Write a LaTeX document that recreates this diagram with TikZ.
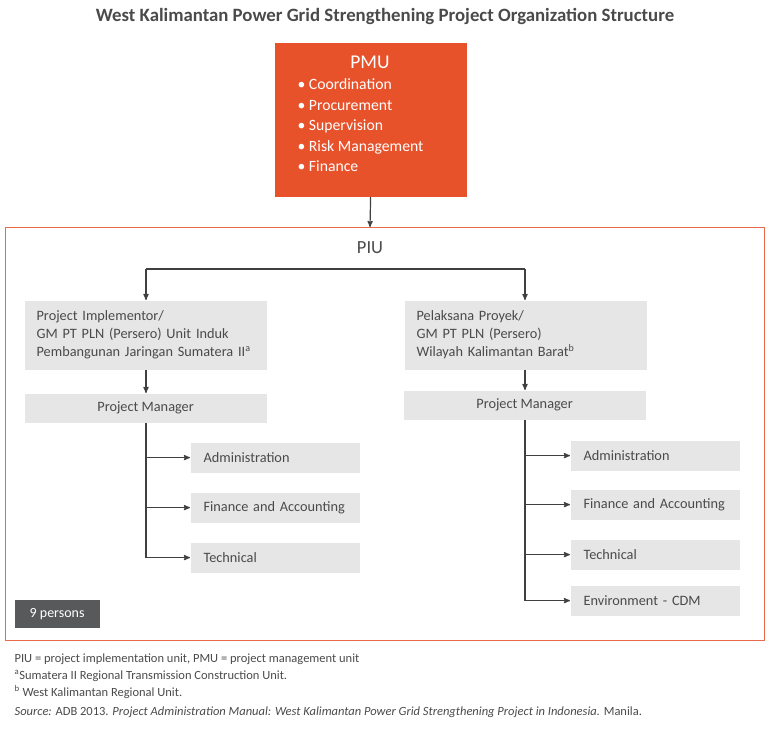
\documentclass[tikz,border=0pt]{standalone}
\usepackage{fontspec}
\setmainfont{Carlito}
\usepackage{tikz}
\usetikzlibrary{arrows,positioning}

\definecolor{pmuorange}{HTML}{E8522B}
\definecolor{frameorange}{HTML}{E96A4A}
\definecolor{boxgray}{HTML}{E6E6E7}
\definecolor{darkbox}{HTML}{58595B}
\definecolor{linegray}{HTML}{404040}
\definecolor{textgray}{HTML}{4A4A4A}

\begin{document}
\begin{tikzpicture}[x=1pt,y=-1pt,->,>=stealth',shorten >=0pt,
                    line width=1.2pt,color=linegray]
  \tikzstyle{every node}=[text=textgray,inner sep=0pt]
  \tikzstyle{unitbox}=[fill=boxgray,anchor=north west,inner xsep=12pt,
                       minimum width=242pt,text width=218pt,align=left,
                       font=\fontsize{14.3}{18}\selectfont]
  \tikzstyle{pmbox}=[fill=boxgray,anchor=north west,minimum width=242pt,
                     minimum height=29pt,font=\fontsize{14.3}{18}\selectfont]
  \tikzstyle{subbox}=[fill=boxgray,anchor=north west,inner xsep=13pt,
                      minimum width=169pt,text width=143pt,minimum height=30pt,
                      align=left,font=\fontsize{14.3}{18}\selectfont]
  \tikzstyle{note}=[anchor=base west,font=\fontsize{12.5}{14}\selectfont]

  \useasboundingbox (0,0) rectangle (768,734);

  % title
  \node (title) at (385,16) {\fontsize{18.8}{22}\selectfont\bfseries West Kalimantan Power Grid Strengthening Project Organization Structure};

  % PMU
  \node[fill=pmuorange,anchor=north west,minimum width=192pt,minimum height=154pt] (pmu) at (274,42) {};
  \node[text=white,font=\fontsize{19.5}{20}\selectfont] (pmutitle) at (370,62) {PMU};
  \node[text=white,anchor=north west,align=left,font=\fontsize{15.7}{20.5}\selectfont] (pmulist) at (297,78)
    {• Coordination\\ • Procurement\\ • Supervision\\ • Risk Management\\ • Finance};

  % PIU frame
  \draw[draw=frameorange,line width=1pt] (5,227) rectangle (764,640);
  \node[font=\fontsize{18.5}{20}\selectfont] (piu) at (370,248) {PIU};
  \coordinate (piutop) at (370,227);
  \draw (pmu.south) -- (piutop);

  % implementing units
  \node[unitbox,minimum height=69pt] (implL) at (24,300)
    {Project Implementor/\\ GM PT PLN (Persero) Unit Induk\\ Pembangunan Jaringan Sumatera II\textsuperscript{a}};
  \node[unitbox,minimum height=69pt] (implR) at (404,300)
    {Pelaksana Proyek/\\ GM PT PLN (Persero)\\ Wilayah Kalimantan Barat\textsuperscript{b}};
  \coordinate (splitL) at (146,269);
  \coordinate (splitR) at (525,269);
  \draw[-] (splitL) -- (splitR);
  \draw (splitL) -- (splitL |- implL.north);
  \draw (splitR) -- (splitR |- implR.north);

  % project managers
  \node[pmbox] (pmL) at (24,393) {Project Manager};
  \node[pmbox] (pmR) at (403,390) {Project Manager};
  \draw (implL.south -| splitL) -- (pmL.north -| splitL);
  \draw (implR.south -| splitR) -- (pmR.north -| splitR);

  % left sections
  \node[subbox] (admL) at (190,442) {Administration};
  \node[subbox] (finL) at (190,492) {Finance and Accounting};
  \node[subbox] (tecL) at (190,542) {Technical};
  \foreach \s in {admL,finL,tecL}
    \draw (pmL.south -| splitL) |- (\s.west);

  % right sections
  \node[subbox] (admR) at (570,440) {Administration};
  \node[subbox] (finR) at (570,489) {Finance and Accounting};
  \node[subbox] (tecR) at (570,539) {Technical};
  \node[subbox] (envR) at (570,585) {Environment - CDM};
  \foreach \s in {admR,finR,tecR,envR}
    \draw (pmR.south -| splitR) |- (\s.west);

  % staff count
  \node[fill=darkbox,text=white,anchor=north west,minimum width=85pt,minimum height=28pt,
        font=\fontsize{14}{16}\selectfont] (staff) at (14,599) {9 persons};

  % notes
  \node[note] (n1) at (14,662) {PIU = project implementation unit, PMU = project management unit};
  \node[note] (n2) at (14,679) {\textsuperscript{a}Sumatera II Regional Transmission Construction Unit.};
  \node[note] (n3) at (14,696) {\textsuperscript{b} West Kalimantan Regional Unit.};
  \node[note] (n4) at (14,715) {\textit{Source:} ADB 2013. \textit{Project Administration Manual: West Kalimantan Power Grid Strengthening Project in Indonesia.} Manila.};
\end{tikzpicture}
\end{document}
